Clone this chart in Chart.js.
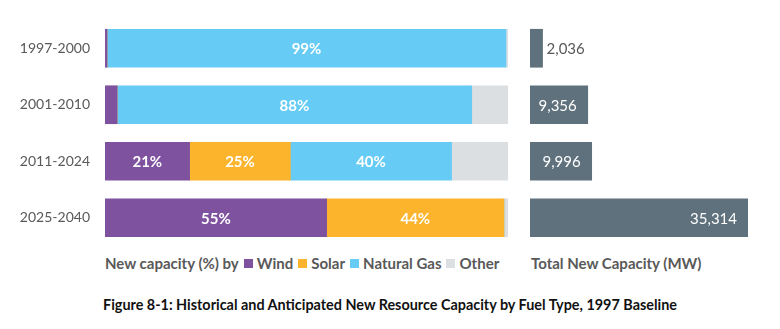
<!DOCTYPE html>
<html><head><meta charset="utf-8">
<script src="https://cdn.jsdelivr.net/npm/chart.js@4.4.1/dist/chart.umd.min.js"></script>
<style>
html,body{margin:0;padding:0;background:#fff;width:780px;height:329px;overflow:hidden;font-family:Lato,"Open Sans",sans-serif;}
#cL{position:absolute;left:0;top:0;}
#cR{position:absolute;left:515px;top:0;}
.leg{position:absolute;top:254px;font-weight:bold;color:#595959;font-size:15px;white-space:nowrap;line-height:18px;}
.sq{display:inline-block;width:9px;height:9px;margin:0 4px 0 5px;vertical-align:1px;}
#title{position:absolute;top:296px;left:0;width:780px;text-align:center;font-weight:bold;font-size:14.4px;color:#111;}
</style></head>
<body>
<canvas id="cL" width="515" height="250"></canvas>
<canvas id="cR" width="265" height="250"></canvas>
<div class="leg" style="left:105px">New capacity (%) by<span class="sq" style="background:#7f52a0"></span>Wind<span class="sq" style="background:#fbb42c"></span>Solar<span class="sq" style="background:#67ccf5"></span>Natural Gas<span class="sq" style="background:#dcdfe2"></span>Other</div>
<div class="leg" style="left:531px">Total New Capacity (MW)</div>
<div id="title">Figure 8-1: Historical and Anticipated New Resource Capacity by Fuel Type, 1997 Baseline</div>
<script>
const periods = ["1997-2000", "2001-2010", "2011-2024", "2025-2040"];
const windPct = [0.5, 3, 21, 55];
const solarPct = [0, 0, 25, 44];
const gasPct = [99, 88, 40, 0];
const otherPct = [0.5, 9, 14, 1];
const totalMW = [2036, 9356, 9996, 35314];

const FONT = 'Lato, "Open Sans", sans-serif';

const pctLabels = {
  id: 'pctLabels',
  afterDatasetsDraw(chart) {
    const ctx = chart.ctx;
    ctx.save();
    ctx.font = 'bold 15px ' + FONT;
    ctx.fillStyle = '#ffffff';
    ctx.textAlign = 'center';
    ctx.textBaseline = 'middle';
    chart.data.datasets.forEach((ds, di) => {
      if (ds.label === 'Other') return;
      const meta = chart.getDatasetMeta(di);
      meta.data.forEach((el, i) => {
        const v = ds.data[i];
        if (v < 10) return;
        const p = el.getProps(['x', 'y', 'base']);
        ctx.fillText(Math.round(v) + '%', (p.x + p.base) / 2, p.y + 1);
      });
    });
    ctx.restore();
  }
};

const totLabels = {
  id: 'totLabels',
  afterDatasetsDraw(chart) {
    const ctx = chart.ctx;
    ctx.save();
    ctx.font = '15px ' + FONT;
    ctx.textBaseline = 'middle';
    const meta = chart.getDatasetMeta(0);
    meta.data.forEach((el, i) => {
      const v = totalMW[i];
      const p = el.getProps(['x', 'y', 'base']);
      const txt = v.toLocaleString('en-US');
      const w = ctx.measureText(txt).width;
      if (p.x - p.base < w + 16) {
        ctx.fillStyle = '#595959';
        ctx.textAlign = 'left';
        ctx.fillText(txt, p.x + 4, p.y + 1);
      } else {
        ctx.fillStyle = '#ffffff';
        ctx.textAlign = 'right';
        ctx.fillText(txt, p.x - 11, p.y + 1);
      }
    });
    ctx.restore();
  }
};

new Chart(document.getElementById('cL'), {
  type: 'bar',
  data: {
    labels: periods,
    datasets: [
      {label: 'Wind', data: windPct, backgroundColor: '#7f52a0'},
      {label: 'Solar', data: solarPct, backgroundColor: '#fbb42c'},
      {label: 'Natural Gas', data: gasPct, backgroundColor: '#67ccf5'},
      {label: 'Other', data: otherPct, backgroundColor: '#dcdfe2'}
    ]
  },
  options: {
    indexAxis: 'y',
    responsive: false,
    animation: false,
    layout: {padding: {top: 20, bottom: 4, right: 7, left: 0}},
    datasets: {bar: {barThickness: 38, borderWidth: 0}},
    scales: {
      x: {stacked: true, min: 0, max: 100, display: false},
      y: {
        stacked: true,
        grid: {display: false, drawTicks: false},
        border: {display: false},
        ticks: {color: '#595959', font: {family: FONT, size: 14}, padding: 15},
        afterFit(s) { s.width = 105; s.paddingTop = 0; s.paddingBottom = 0; }
      }
    },
    plugins: {legend: {display: false}, tooltip: {enabled: false}}
  },
  plugins: [pctLabels]
});

new Chart(document.getElementById('cR'), {
  type: 'bar',
  data: {
    labels: periods,
    datasets: [{label: 'Total New Capacity (MW)', data: totalMW, backgroundColor: '#5f717c'}]
  },
  options: {
    indexAxis: 'y',
    responsive: false,
    animation: false,
    layout: {padding: {top: 20, bottom: 4, right: 32, left: 15}},
    datasets: {bar: {barThickness: 38, borderWidth: 0}},
    scales: {
      x: {min: 0, max: 35314, display: false},
      y: {display: false}
    },
    plugins: {legend: {display: false}, tooltip: {enabled: false}}
  },
  plugins: [totLabels]
});
</script>
</body></html>
